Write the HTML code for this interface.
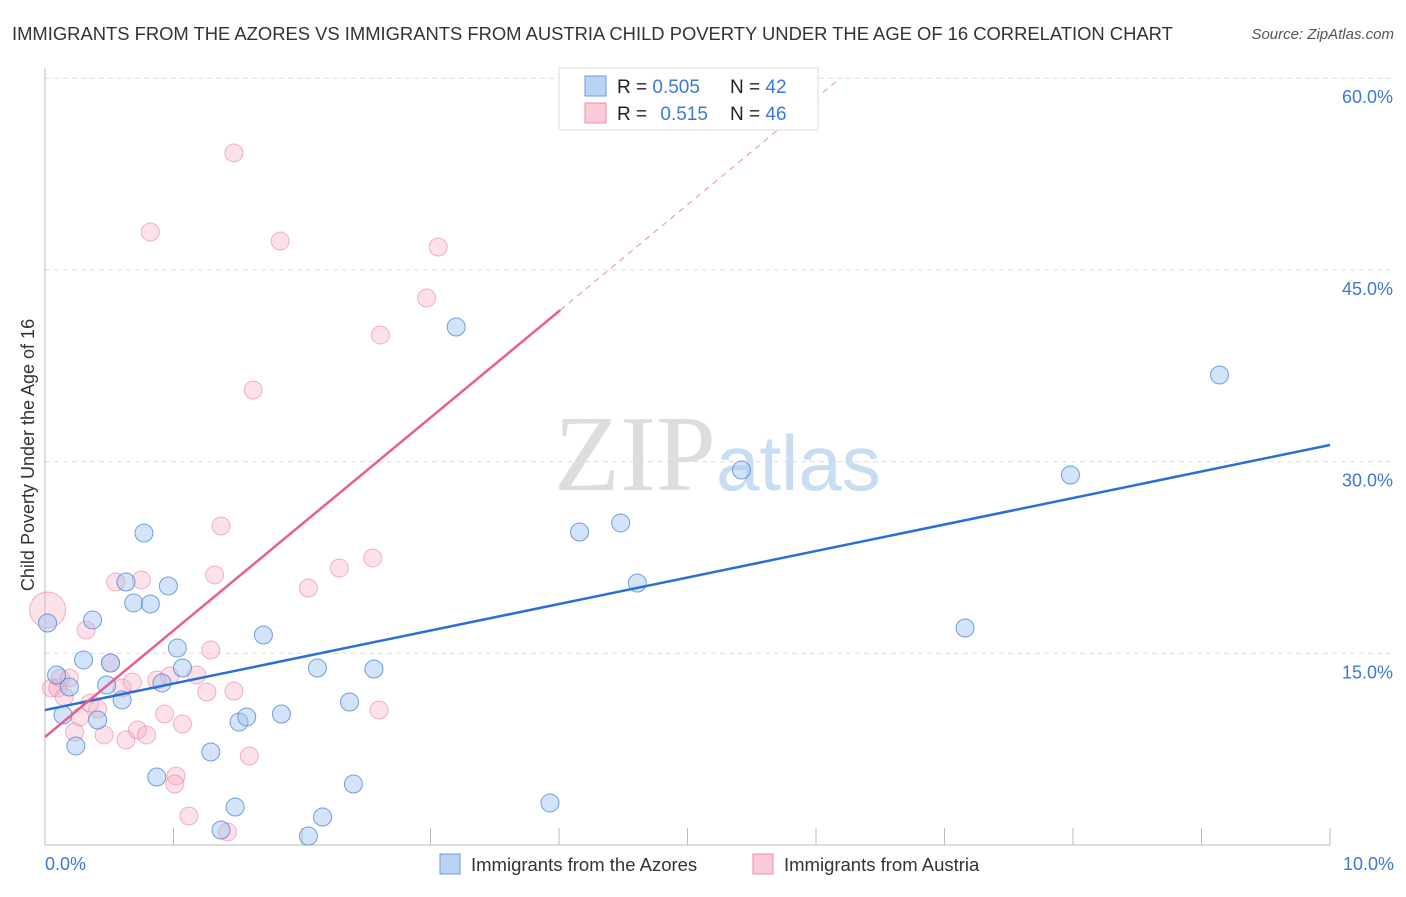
<!DOCTYPE html>
<html><head><meta charset="utf-8"><style>
body{margin:0;background:#fff;font-family:"Liberation Sans",sans-serif;}
</style></head><body>
<svg width="1406" height="892" xmlns="http://www.w3.org/2000/svg">
<text x="12" y="40" font-size="18.4" fill="#333">IMMIGRANTS FROM THE AZORES VS IMMIGRANTS FROM AUSTRIA CHILD POVERTY UNDER THE AGE OF 16 CORRELATION CHART</text>
<text x="1394" y="39" font-size="15" fill="#555" font-style="italic" text-anchor="end">Source: ZipAtlas.com</text>
<g id="grid"></g>
<text x="716" y="490" font-size="108" fill="#ddd" text-anchor="end" font-family="Liberation Serif,serif">ZIP</text>
<text x="716" y="490" font-size="78" fill="#c8dcf2">atlas</text>
<g id="pts"></g>
<g id="lines"></g>
<text x="34" y="455" font-size="18" fill="#333" text-anchor="middle" transform="rotate(-90 34 455)">Child Poverty Under the Age of 16</text>
<text x="45" y="870" font-size="18" fill="#3b78d8">0.0%</text>
<text x="1394" y="870" font-size="18" fill="#3b78d8" text-anchor="end">10.0%</text>
<g>
<rect x="559" y="68" width="259" height="62" fill="#fff" stroke="#ddd"/>
<rect x="585" y="76" width="21" height="20" fill="#b9d3f5" stroke="#6a9be0"/>
<rect x="585" y="103" width="21" height="20" fill="#fcc9d8" stroke="#ea8fac"/>
<text x="617" y="93" font-size="19" fill="#222">R = <tspan fill="#3b78d8">0.505</tspan><tspan x="730">N = </tspan><tspan fill="#3b78d8">42</tspan></text>
<text x="617" y="120" font-size="19" fill="#222">R = <tspan fill="#3b78d8" dx="8">0.515</tspan><tspan x="730">N = </tspan><tspan fill="#3b78d8">46</tspan></text>
</g>
<g><rect x="440" y="854" width="20" height="20" fill="#b9d3f5" stroke="#6a9be0"/><text x="471" y="871" font-size="18.5" fill="#333">Immigrants from the Azores</text></g>
<g><rect x="753" y="854" width="20" height="20" fill="#fcc9d8" stroke="#ea8fac"/><text x="784" y="871" font-size="18.5" fill="#333">Immigrants from Austria</text></g>
</svg>
<script>
const yTicks=[15,30,45,60];
const yTickLabels=["15.0%","30.0%","45.0%","60.0%"];
const xTicks=[0,1,2,3,4,5,6,7,8,9,10];
const blueX=[0.02,0.09,0.19,0.14,0.24,0.30,0.37,0.41,0.48,0.51,0.60,0.63,0.69,0.77,0.82,0.87,0.91,0.96,1.03,1.07,1.29,1.37,1.48,1.51,1.57,1.70,1.84,2.05,2.12,2.16,2.37,2.40,2.56,3.20,3.93,4.16,4.48,4.61,5.42,7.16,7.98,9.14];
const blueY=[17.37,13.30,12.36,10.17,7.75,14.48,17.61,9.78,12.52,14.24,11.35,20.58,18.94,24.41,18.86,5.32,12.68,20.27,15.41,13.85,7.28,1.17,2.97,9.62,10.02,16.43,10.25,0.70,13.85,2.19,11.19,4.77,13.77,40.53,3.29,24.49,25.20,20.50,29.34,16.98,28.95,36.78];
const pinkX=[0.02,0.05,0.10,0.12,0.15,0.19,0.23,0.27,0.32,0.35,0.41,0.46,0.51,0.55,0.60,0.63,0.68,0.75,0.72,0.79,0.82,0.87,0.93,0.97,1.02,1.01,1.07,1.12,1.18,1.26,1.29,1.32,1.37,1.42,1.47,1.47,1.59,1.62,1.83,2.05,2.29,2.55,2.60,2.61,2.97,3.06];
const pinkY=[18.39,12.28,12.28,13.07,11.58,13.07,8.84,10.02,16.82,11.11,10.64,8.61,14.24,20.58,12.28,8.22,12.75,20.74,9.00,8.61,47.97,12.91,10.25,13.22,5.40,4.77,9.47,2.27,13.30,11.97,15.26,21.13,24.96,1.02,12.05,54.15,6.96,35.60,47.26,20.11,21.67,22.46,10.56,39.91,42.80,46.79];
const pinkR=[18,9,9,9,9,9,9,9,9,9,9,9,9,9,9,9,9,9,9,9,9,9,9,9,9,9,9,9,9,9,9,9,9,9,9,9,9,9,9,9,9,9,9,9,9,9];
const blueTrend=[10.56,31.3];
const pinkTrend=[8.45,8.33];
const NS="http://www.w3.org/2000/svg";
const X=v=>45+v*128.5, Y=v=>845-v*12.78;
function mk(t,a,p){const e=document.createElementNS(NS,t);for(const k in a)e.setAttribute(k,a[k]);p.appendChild(e);return e;}
const g=document.getElementById('grid');
yTicks.forEach((t,i)=>{
 const l=mk('line',{x1:45,x2:1395,y1:Y(t),y2:Y(t),stroke:'#ddd','stroke-dasharray':'5,4'},g);
 
 
 const tx=mk('text',{x:1393,y:Y(t)+25,'font-size':18,fill:'#3b78d8','text-anchor':'end'},g);tx.textContent=yTickLabels[i];
 
 
});
xTicks.forEach(t=>{const l=mk('line',{x1:X(t),x2:X(t),y1:828,y2:845,stroke:'#bbb'},g);
 
 });
let ax=mk('line',{x1:45,x2:1330,y1:845,y2:845,stroke:'#bbb'},g);


ax=mk('line',{x1:45,x2:45,y1:68,y2:845,stroke:'#bbb'},g);


const p=document.getElementById('pts');
pinkX.forEach((x,i)=>{const c=mk('circle',{cx:X(x),cy:Y(pinkY[i]),r:pinkR[i],fill:'rgba(248,170,195,0.35)',stroke:'rgba(232,120,155,0.55)'},p);
 
 });
blueX.forEach((x,i)=>{const c=mk('circle',{cx:X(x),cy:Y(blueY[i]),r:9,fill:'rgba(160,196,240,0.45)',stroke:'rgba(70,130,215,0.75)'},p);
 
 });
const L=document.getElementById('lines');
let ln=mk('line',{x1:X(0),y1:Y(blueTrend[0]),x2:X(10),y2:Y(blueTrend[1]),stroke:'#2a6fd6','stroke-width':2.5},L);


const pf=x=>pinkTrend[0]+pinkTrend[1]*x;
ln=mk('line',{x1:X(0),y1:Y(pf(0)),x2:X(4.01),y2:Y(pf(4.01)),stroke:'#e8608a','stroke-width':2.5},L);


const xe=(60-pinkTrend[0])/pinkTrend[1];
ln=mk('line',{x1:X(4.01),y1:Y(pf(4.01)),x2:X(xe),y2:Y(pf(xe)),stroke:'#eaa0b8','stroke-width':1.2,'stroke-dasharray':'6,5'},L);


</script>
</body></html>
